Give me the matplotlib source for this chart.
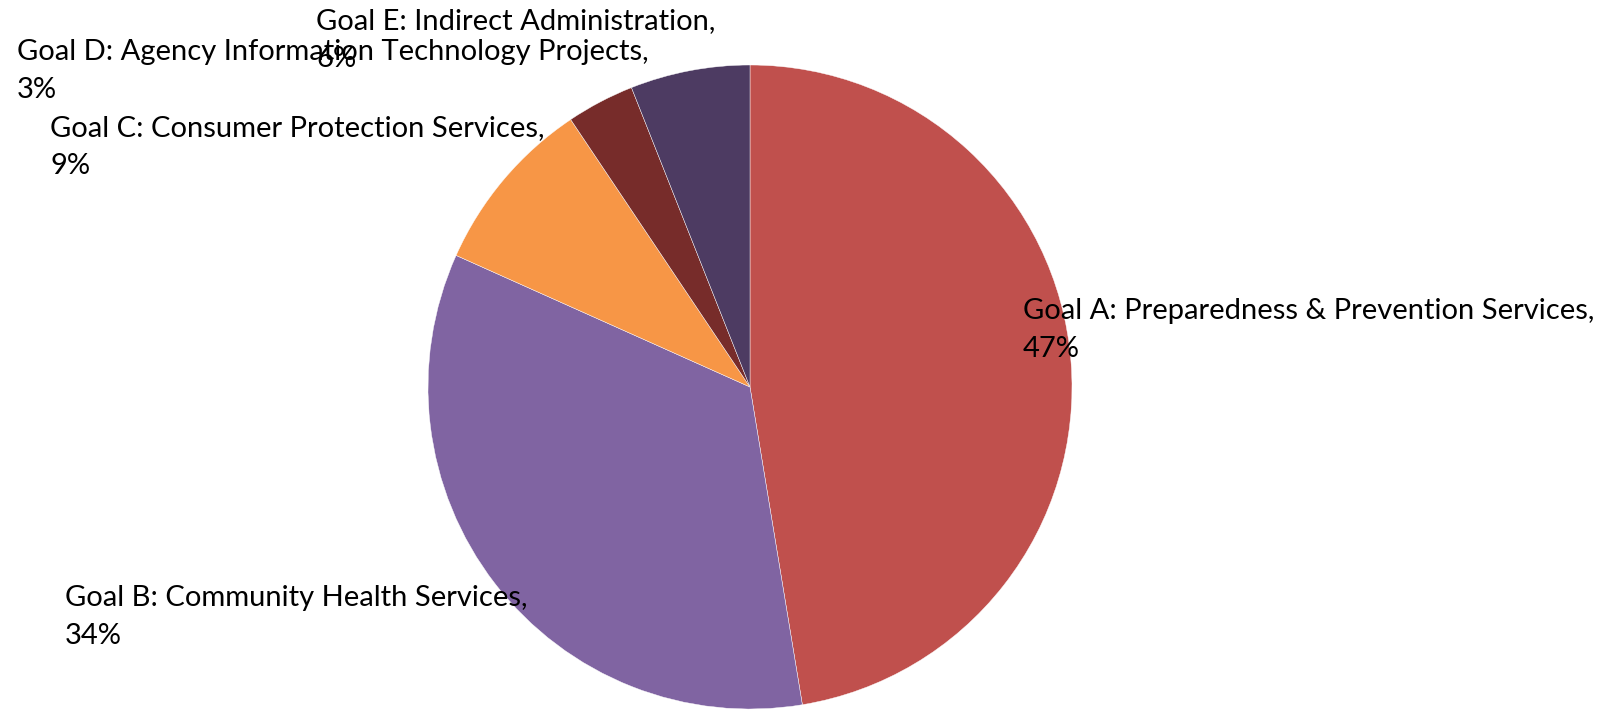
import matplotlib.pyplot as plt

# data
goals = ['Goal A: Preparedness & Prevention Services',
         'Goal B: Community Health Services',
         'Goal C: Consumer Protection Services',
         'Goal D: Agency Information Technology Projects',
         'Goal E: Indirect Administration']
shares = [47.4, 34.3, 8.9, 3.4, 6.0]
colors = ['#C0504D', '#8064A2', '#F79646', '#772C2A', '#4D3B62']

W, H = 1609, 710
fig = plt.figure(figsize=(W / 100, H / 100), dpi=100)

# pie centre and radius in pixels
cx, cy, r = 750, 387, 322
ax = fig.add_axes([(cx - r) / W, (H - cy - r) / H, 2 * r / W, 2 * r / H])
ax.pie(shares, colors=colors, startangle=90, counterclock=False,
       wedgeprops=dict(edgecolor='white', linewidth=0.3))
ax.set_xlim(-1, 1)
ax.set_ylim(-1, 1)
ax.set_aspect('equal')

# label positions (left x, vertical centre of the two lines), pixels
label_pos = [(1023, 330), (65, 617), (50, 147), (17, 71), (316, 40)]
for name, val, (lx, ly) in zip(goals, shares, label_pos):
    fig.text(lx / W, 1 - ly / H, f'{name},\n{val:.0f}%', ha='left', va='center',
             fontsize=21, family='Lato', linespacing=1.6, color='black')

fig.savefig('out.png', dpi=100)
